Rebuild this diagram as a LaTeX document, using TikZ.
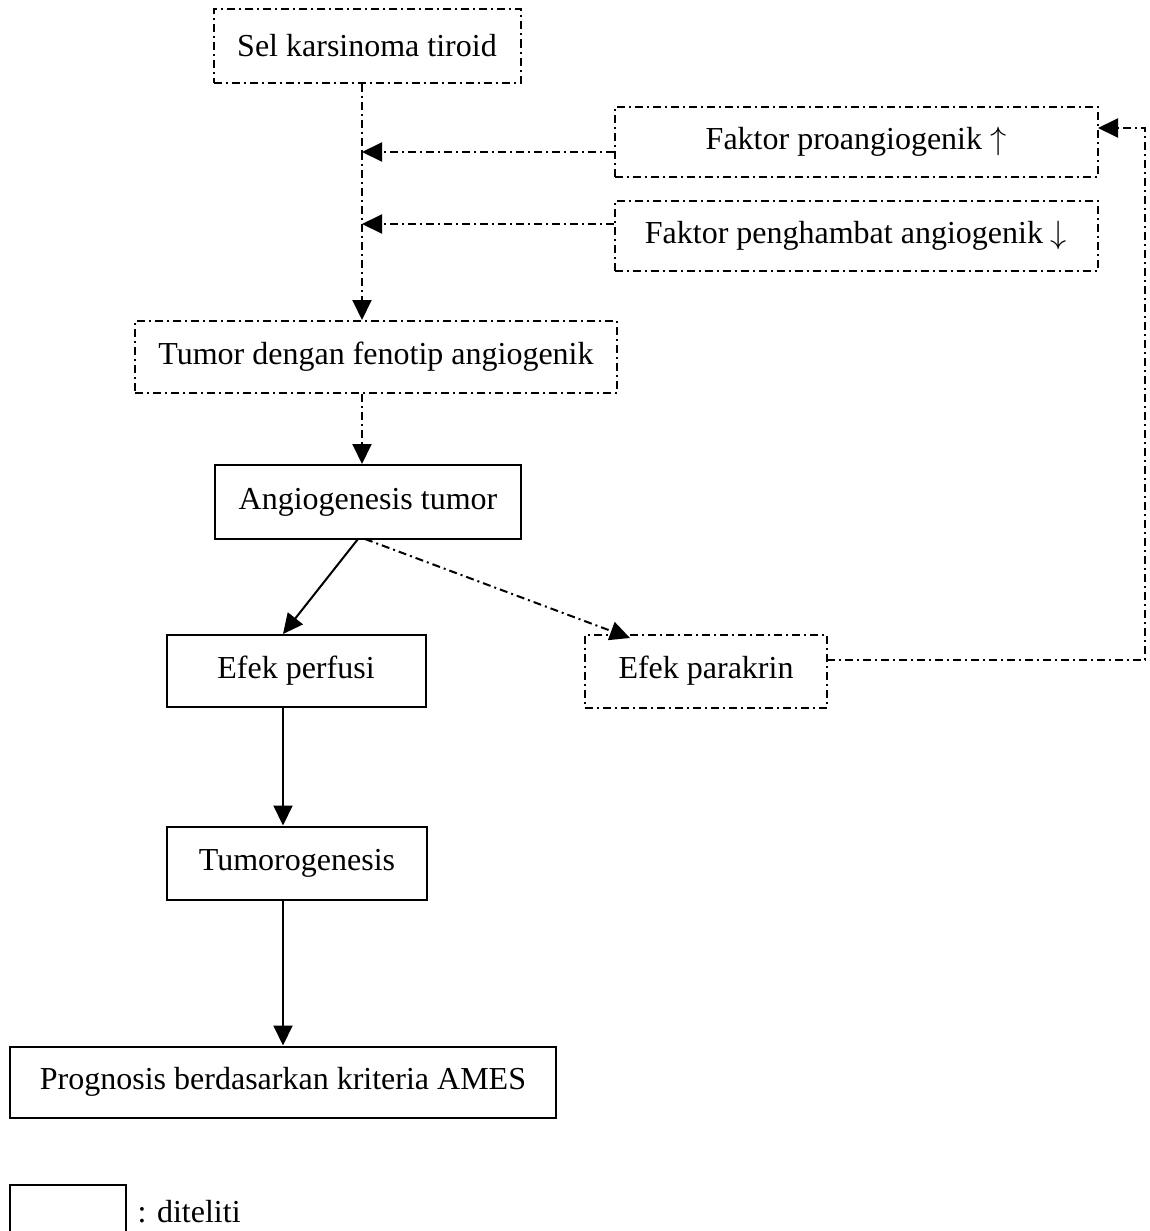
\documentclass[tikz,border=0pt]{standalone}
\usepackage{fontspec}
\setmainfont{Liberation Serif}
\usetikzlibrary{arrows.meta}
\newcommand{\myup}{\scalebox{1.3}{$\uparrow$}}
\newcommand{\mydown}{\scalebox{1.3}{$\downarrow$}}
\begin{document}
\begin{tikzpicture}[x=1pt,y=-1pt,
  every node/.style={font=\fontsize{32}{36}\selectfont},
  solidbox/.style={draw,line width=2pt,inner sep=0pt,anchor=center},
  dbox/.style={solidbox,dash pattern=on 8pt off 4pt on 2pt off 4pt},
  dline/.style={line width=2pt,dash pattern=on 8pt off 4pt on 2pt off 4pt},
  sline/.style={line width=2pt},
  tip/.style={-{Triangle[length=20pt,width=19pt]}}
]
\useasboundingbox (0,0) rectangle (1149,1231);
\node[dbox,minimum width=307pt,minimum height=73pt] (sel) at (367,46) {Sel karsinoma tiroid};
\node[dbox,minimum width=483pt,minimum height=70pt] (pro) at (856,142) {Faktor proangiogenik \myup};
\node[dbox,minimum width=483pt,minimum height=70pt] (peng) at (856,236) {Faktor penghambat angiogenik \mydown};
\node[dbox,minimum width=482pt,minimum height=72pt] (tum) at (376,357) {Tumor dengan fenotip angiogenik};
\node[solidbox,minimum width=306pt,minimum height=74pt] (ang) at (368,502) {Angiogenesis tumor};
\node[solidbox,minimum width=259pt,minimum height=72pt] (perf) at (296,671) {Efek perfusi};
\node[dbox,minimum width=242pt,minimum height=73pt] (para) at (706,671) {Efek parakrin};
\node[solidbox,minimum width=260pt,minimum height=73pt] (tumo) at (297,863) {Tumorogenesis};
\node[solidbox,minimum width=546pt,minimum height=71pt] (prog) at (283,1082) {Prognosis berdasarkan kriteria AMES};
\node[solidbox,minimum width=116pt,minimum height=70pt] (leg) at (68,1220) {};
\node[anchor=west] (legt) at (134,1212) {: diteliti};
% coordinates
\coordinate (j1) at (362,152);
\coordinate (j2) at (362,224);
\coordinate (pe) at (827,660);
\coordinate (c1) at (1145,660);
\coordinate (c2) at (1145,128);
\coordinate (pin) at (1098,128);
\coordinate (ab1) at (358,539);
\coordinate (ab2) at (365,539);
\coordinate (vx) at (283,0);
% connectors
\draw[dline] (sel.south -| j1) -- (j1);
\draw[dline,tip] (j1 -| pro.west) -- (j1);
\draw[dline,tip] (j2 -| peng.west) -- (j2);
\draw[dline,tip] (j1) -- (j1 |- tum.north);
\draw[dline,tip] (tum.south -| j1) -- (ang.north -| j1);
\draw[sline,tip] (ab1) -- (perf.north -| vx);
\draw[dline,tip] (ab2) -- (630,638);
\draw[sline,tip] (perf.south -| vx) -- (tumo.north -| vx);
\draw[sline,tip] (tumo.south -| vx) -- (prog.north -| vx);
\draw[dline,tip] (pe) -- (c1) -- (c2) -- (pin);
\end{tikzpicture}
\end{document}
